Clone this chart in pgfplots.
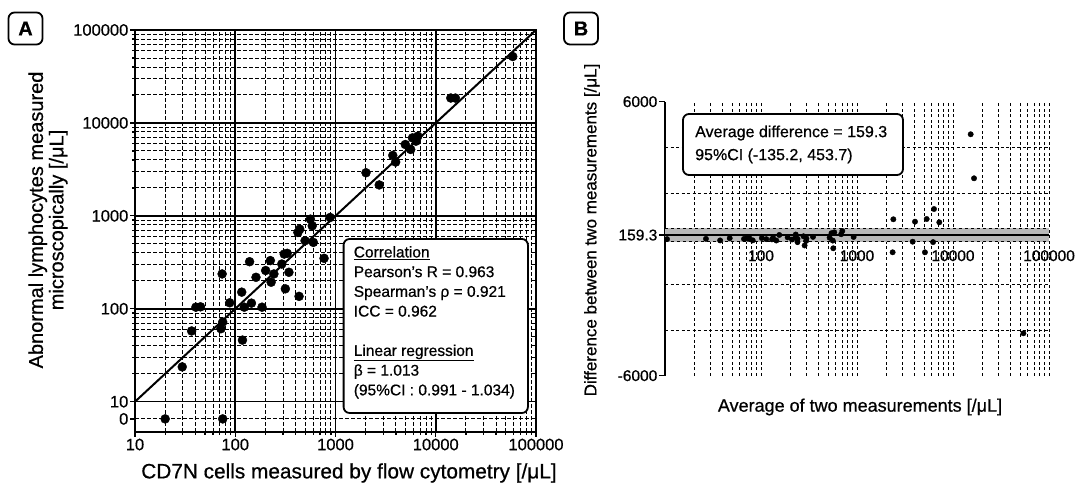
\documentclass[border=0pt]{standalone}
\usepackage{pgfplots}
\pgfplotsset{compat=1.18}
\usepackage{fontspec}
\setmainfont{Liberation Sans}[FakeBold=0.6]
\begin{document}
\begin{tikzpicture}
\path[use as bounding box] (0,0) rectangle (1083pt,489pt);
% ---------------- Panel A ----------------
\begin{axis}[
  at={(135pt,57pt)}, anchor=south west, scale only axis,
  width=401pt, height=402pt,
  xmode=log, ymode=log,
  xmin=10, xmax=100000, ymin=4.72, ymax=100000,
  xtick={10,100,1000,10000,100000},
  xticklabels={\mbox{10},\mbox{100},\mbox{1000},\mbox{10000},\mbox{100000}},
  ytick={10,100,1000,10000,100000},
  yticklabels={\mbox{10},\mbox{100},\mbox{1000},\mbox{10000},\mbox{100000}},
  extra y ticks={6.53}, extra y tick labels={\mbox{0}},
  extra y tick style={grid=major, major grid style={black, dashed, dash pattern=on 4pt off 2pt, line width=1pt}},
  minor xtick={20,30,40,50,60,70,80,90,200,300,400,500,600,700,800,900,2000,3000,4000,5000,6000,7000,8000,9000,20000,30000,40000,50000,60000,70000,80000,90000},
  minor ytick={20,30,40,50,60,70,80,90,200,300,400,500,600,700,800,900,2000,3000,4000,5000,6000,7000,8000,9000,20000,30000,40000,50000,60000,70000,80000,90000},
  grid=both,
  major grid style={black, line width=1.6pt},
  minor grid style={black, dashed, dash pattern=on 4pt off 2pt, line width=0.9pt},
  tick pos=left, tick align=outside,
  major tick length=5pt, minor tick length=3pt,
  every tick/.style={black, line width=1.3pt},
  axis line style={black, line width=1.8pt},
  tick label style={font=\fontsize{16.5}{18}\selectfont, inner sep=1.5pt},
  clip=false,
]
\addplot[black, line width=2pt] coordinates {(10,10) (100000,100000)};
\addplot[only marks, mark=*, mark size=4.5pt, black] table {
x y
20 6.53
75 6.53
29.6 23.7
36.7 57.7
40.5 104
45 105
72 61
75 72
74 237
88 116
118 46
116 151
123 104
139 321
145 115
161 218
185 104
201 258
224 330
228 193
243 237
291 303
308 388
330 395
316 164
343 247
433 136
422 662
440 719
497 540
562 921
586 781
601 518
769 349
884 960
2014 2910
2730 2150
3727 4467
3981 3793
4970 5857
5623 5180
5860 6900
6360 6360
6620 7200
14120 18530
15700 18500
58600 51800
};
\end{axis}
% box A
\draw[black, line width=1.8pt, rounded corners=6pt, fill=white] (343.6pt,250pt) rectangle (527.9pt,76pt);
\node[anchor=north west, align=left, inner sep=0pt, font=\fontsize{15.5}{19.7}\selectfont] at (353.6pt,243pt)
 {\underline{Correlation}\\
  Pearson’s R = 0.963\\
  Spearman’s ρ = 0.921\\
  ICC = 0.962\\[19.7pt]
  \underline{Linear regression}\\
  β = 1.013\\
  (95\%CI : 0.991 - 1.034)};
% labels A
\node[font=\fontsize{20.8}{22}\selectfont] at (349pt,16pt) {CD7N cells measured by flow cytometry [/μL]};
\node[rotate=90, align=center, font=\fontsize{20}{20.5}\selectfont] at (48pt,269pt) {Abnormal lymphocytes measured\\microscopically [/μL]};
\node[draw, rounded corners=6pt, line width=1.8pt, minimum width=34pt, minimum height=32pt, inner sep=0pt, font=\bfseries\fontsize{20}{20}\selectfont] at (25.5pt,460.5pt) {A};
% ---------------- Panel B ----------------
\begin{axis}[
  at={(665pt,113.3pt)}, anchor=south west, scale only axis,
  width=384pt, height=274pt,
  xmode=log,
  xmin=10, xmax=100000, ymin=-6000, ymax=6000,
  axis lines*=left,
  x axis line style={draw=none},
  y axis line style={black, line width=1.8pt},
  xtick={100,1000,10000,100000},
  xticklabels={\mbox{100},\mbox{1000},\mbox{10000},\mbox{100000}},
  minor xtick={20,30,40,50,60,70,80,90,200,300,400,500,600,700,800,900,2000,3000,4000,5000,6000,7000,8000,9000,20000,30000,40000,50000,60000,70000,80000,90000},
  xtick style={draw=none},
  xmajorgrids, xminorgrids,
  ytick={-6000,159.3,6000},
  yticklabels={\mbox{-6000},\mbox{159.3},\mbox{6000}},
  minor ytick={-4000,-2000,2000,4000},
  yminorgrids, ymajorgrids=false,
  major grid style={black, dashed, dash pattern=on 3pt off 2.5pt, line width=0.9pt},
  minor grid style={black, dashed, dash pattern=on 3pt off 2.5pt, line width=0.7pt},
  tick align=outside,
  ytick style={black, line width=1.3pt},
  major tick length=6pt, minor tick length=0pt,
  xticklabel style={yshift=135pt, font=\fontsize{15.5}{17}\selectfont},
  yticklabel style={font=\fontsize{15.5}{17}\selectfont, inner sep=1.5pt},
  clip=false,
]
\addplot[draw=none, fill=gray!55] coordinates {(10,-135.2) (100000,-135.2) (100000,453.7) (10,453.7)} -- cycle;
\addplot[black, dashed, line width=0.9pt] coordinates {(10,-135.2) (100000,-135.2)};
\addplot[black, dashed, line width=0.9pt] coordinates {(10,453.7) (100000,453.7)};
\addplot[black, line width=2.4pt] coordinates {(10,159.3) (100000,159.3)};
\addplot[only marks, mark=*, mark size=2.7pt, black] table {
x y
10.5 -20
37.5 -75
26.7 -6
47.2 21
72 63
75 60
66.5 -11
73.5 -3
155 163
102 28
82 -72
133.5 35
113.5 -19
230 182
130 -30
189.5 57
144.5 -81
229.5 57
277 106
210.5 -35
240 -6
297 12
348 80
240 -152
295 -96
284.5 -297
542 240
579.5 279
518.5 43
683.5 195
559.5 -83
922 76
3800 -131
6200 -150
15280 4573
16560 2645
2390 850
4020 745
5320 863
6340 1300
7200 718
2350 -596
5100 -596
54100 -4144
566 -420
703 337
};
\end{axis}
% box B
\draw[black, line width=1.8pt, rounded corners=6pt, fill=white] (683pt,375pt) rectangle (903pt,314pt);
\node[anchor=west, align=left, inner sep=0pt, font=\fontsize{16}{23}\selectfont] at (695pt,344.5pt)
 {Average difference = 159.3\\95\%CI (-135.2, 453.7)};
\node[font=\fontsize{18}{20}\selectfont] at (860pt,82pt) {Average of two measurements [/μL]};
\node[rotate=90, font=\fontsize{17}{19}\selectfont] at (592pt,259pt) {Difference between two measurements [/μL]};
\node[draw, rounded corners=6pt, line width=1.8pt, minimum width=34pt, minimum height=32pt, inner sep=0pt, font=\bfseries\fontsize{20}{20}\selectfont] at (581pt,460.5pt) {B};
\end{tikzpicture}
\end{document}
